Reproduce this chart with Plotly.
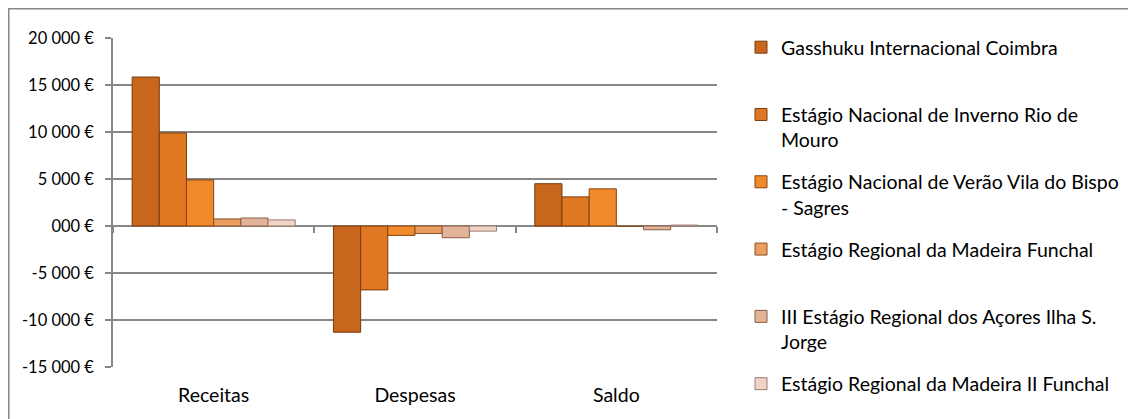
import plotly.graph_objects as go

categories = ["Receitas", "Despesas", "Saldo"]

series_names = [
    "Gasshuku Internacional Coimbra<br> ",
    "Estágio Nacional de Inverno Rio de<br>Mouro",
    "Estágio Nacional de Verão Vila do Bispo<br>- Sagres",
    "Estágio Regional da Madeira Funchal<br> ",
    "III Estágio Regional dos Açores Ilha S.<br>Jorge",
    "Estágio Regional da Madeira II Funchal<br> ",
]

gasshuku = [15850, -11300, 4500]
inverno = [9900, -6800, 3100]
verao = [4900, -1000, 3950]
madeira = [750, -800, -50]
acores = [850, -1250, -400]
madeira2 = [650, -550, 100]

values = [gasshuku, inverno, verao, madeira, acores, madeira2]

colors = ["#c8661d", "#e07722", "#f08a2a", "#eb9f5e", "#e2b49a", "#efd3c6"]
edge_colors = ["#7a3a0c", "#7e3d0d", "#85440f", "#8a5028", "#8e5c44", "#9c7c70"]

tick_vals = [-15000, -10000, -5000, 0, 5000, 10000, 15000, 20000]
tick_text = ["-15 000 €", "-10 000 €", "-5 000 €", "000 €",
             "5 000 €", "10 000 €", "15 000 €", "20 000 €"]

FONT = "Lato"
W, H = 1128, 411          # page body has an 8px margin
ML, MR, MT, MB = 105, 419, 30, 52
PW, PH = W - ML - MR, H - MT - MB
GRID = "#878787"

fig = go.Figure()

for i, (name, vals) in enumerate(zip(series_names, values)):
    fig.add_trace(go.Bar(
        x=categories, y=vals, name=name,
        legendgroup=f"g{i}",
        marker=dict(color=colors[i], line=dict(color=edge_colors[i], width=1)),
    ))

# helper trace carrying the category tick marks on the zero line
fig.add_trace(go.Bar(x=categories, y=[None, None, None], xaxis="x2",
                     showlegend=False, hoverinfo="skip"))

fig.update_layout(
    width=W, height=H,
    margin=dict(l=ML, r=MR, t=MT, b=MB),
    paper_bgcolor="white", plot_bgcolor="white",
    barmode="group", bargap=0.19, bargroupgap=0,
    font=dict(family=FONT, size=16, color="black"),
    showlegend=True,
    legend=dict(
        xref="container", yref="container",
        x=733 / W, xanchor="left", y=1 - 20 / H, yanchor="top",
        valign="top", traceorder="grouped", tracegroupgap=13.6,
        font=dict(family=FONT, size=19.5, color="black"),
        itemwidth=30, maxheight=2000,
        bgcolor="rgba(0,0,0,0)",
    ),
    xaxis=dict(
        type="category", showgrid=False, showline=False, ticks="",
        zeroline=False, tickfont=dict(family=FONT, size=19.5),
        ticklabelstandoff=14, range=[-0.5, 2.5],
    ),
    xaxis2=dict(
        type="category", overlaying="x", matches="x", anchor="free",
        position=15000 / 35000, showticklabels=False, showgrid=False,
        showline=False, ticks="outside", ticklen=6, tickcolor=GRID,
        tickwidth=1.5, tickson="boundaries", side="bottom",
    ),
    yaxis=dict(
        range=[-15000, 20000], tickvals=tick_vals, ticktext=tick_text,
        showgrid=True, gridcolor=GRID, gridwidth=1.5,
        showline=True, linecolor=GRID, linewidth=1.5,
        ticks="outside", ticklen=6, tickcolor=GRID, tickwidth=1.5,
        zeroline=True, zerolinecolor=GRID, zerolinewidth=1.5,
        tickfont=dict(family=FONT, size=16.5), ticklabelstandoff=8,
    ),
    shapes=[dict(
        type="rect", xref="paper", yref="paper",
        x0=-(ML - 0.75) / PW, x1=(W + 20 - ML) / PW,
        y0=-(MB + 20) / PH, y1=(PH + MT - 0.75) / PH,
        line=dict(color=GRID, width=1.5), fillcolor="rgba(0,0,0,0)",
        layer="below",
    )],
)

fig.write_html("out.html")
